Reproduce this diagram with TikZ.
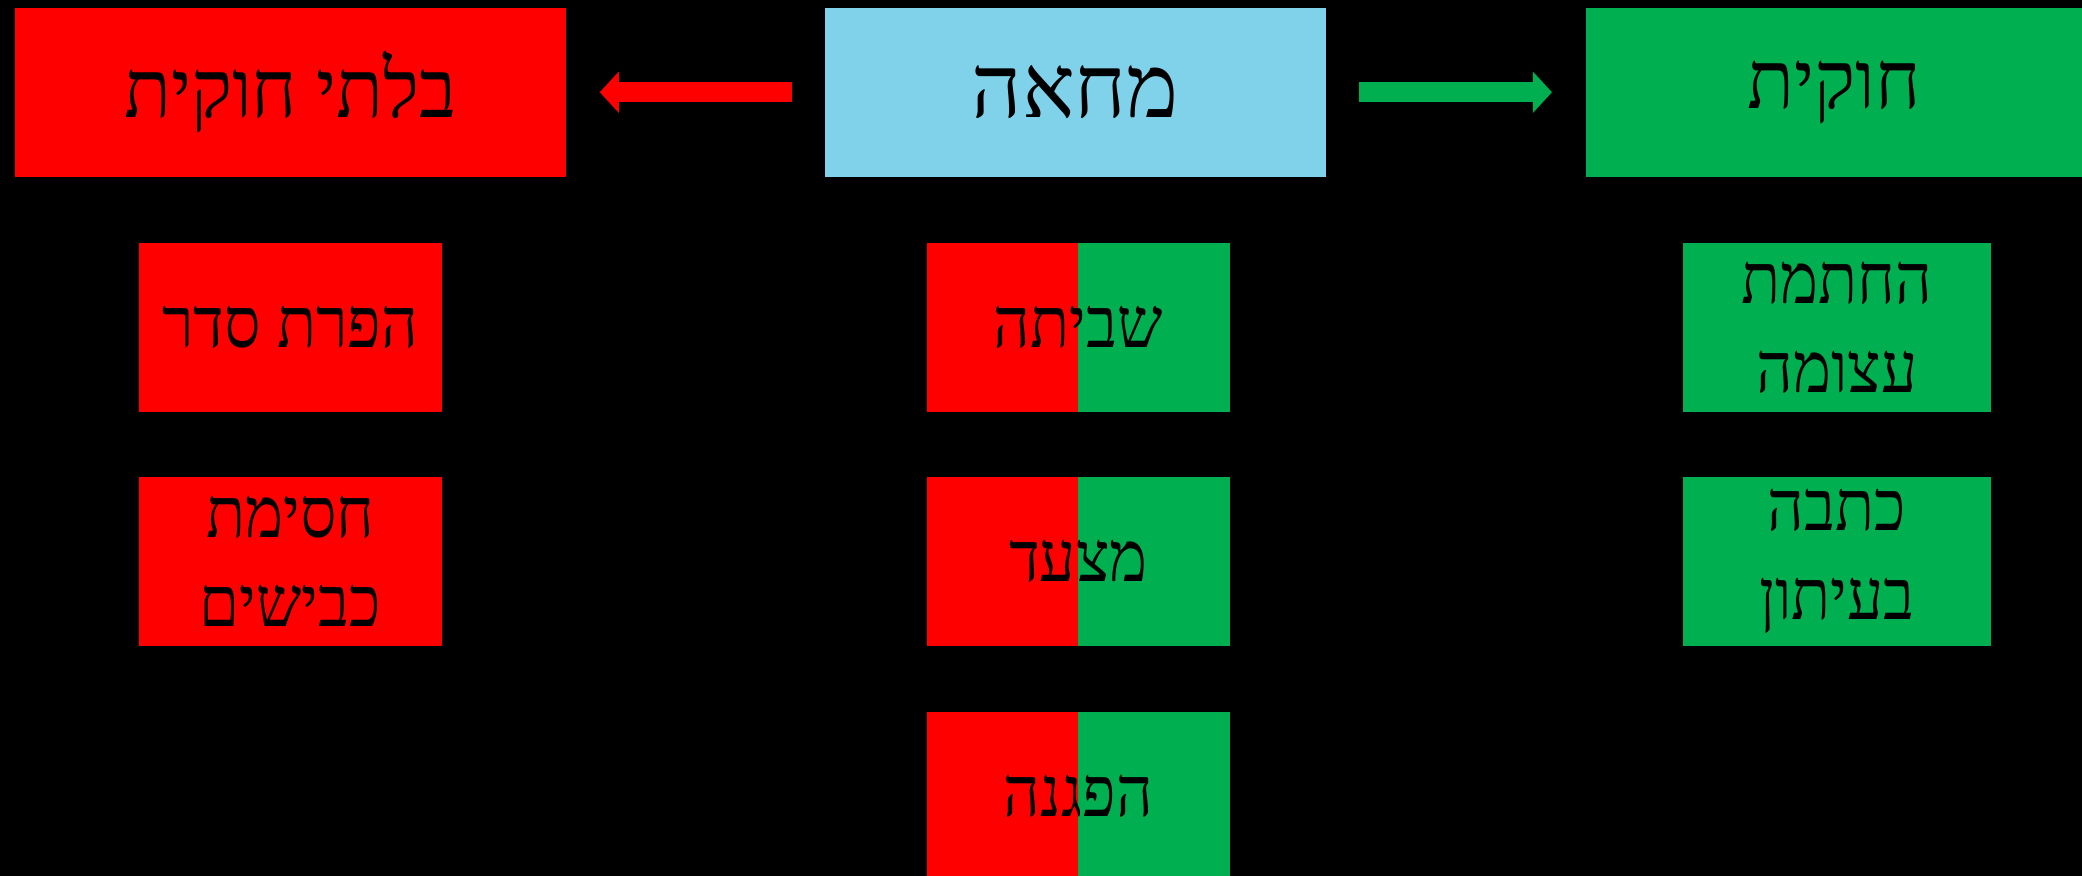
\documentclass[tikz,border=0pt]{standalone}
\usepackage{fontspec}
\newfontfamily\hebfont[Script=Hebrew,FakeStretch=0.91]{Liberation Serif}
\newfontfamily\hebtopfont[Script=Hebrew,FakeStretch=0.95]{Liberation Serif}
\newfontfamily\hebmainfont[Script=Hebrew]{Liberation Serif}
\TeXXeTstate=1
\newcommand{\rl}[1]{\beginR #1\endR}
\usetikzlibrary{arrows.meta}
\definecolor{cred}{RGB}{255,0,0}
\definecolor{cgreen}{RGB}{0,176,80}
\definecolor{cblue}{RGB}{128,210,235}
\begin{document}
\begin{tikzpicture}[x=0.01cm,y=-0.01cm,
  box/.style={rectangle, inner sep=0pt, anchor=north west, align=center, text=black,
    font=\hebfont\fontsize{20}{25.3}\selectfont},
  topbox/.style={box, minimum height=1.69cm, font=\hebtopfont\fontsize{23}{28}\selectfont},
  smallbox/.style={box, minimum height=1.69cm},
  splitbox/.style={box, minimum width=3.03cm, minimum height=1.69cm,
    path picture={
      \fill[cred] (path picture bounding box.south west) rectangle (path picture bounding box.north);
      \fill[cgreen] (path picture bounding box.south) rectangle (path picture bounding box.north east);
    }},
  blockarrow/.style={line width=0.2cm, -{Triangle[length=0.19cm, width=0.4cm]},
    shorten <=0.32cm, shorten >=0.33cm}
]
\fill[black] (0,0) rectangle (2082,876);
\useasboundingbox (0,0) rectangle (2082,876);

% top row
\node[topbox, fill=cred, minimum width=5.51cm] (illegal) at (14,7) {\rl{בלתי חוקית}};
\node[topbox, fill=cblue, minimum width=5.01cm, font=\hebmainfont\fontsize{25}{30}\selectfont] (protest) at (824,7) {\rl{מחאה}};
\node[topbox, fill=cgreen, minimum width=4.97cm] (legal) at (1585,7) {\rl{חוקית}};

% arrows
\draw[blockarrow, cred] (protest.west) -- (illegal.east);
\draw[blockarrow, cgreen] (protest.east) -- (legal.west);

% left column
\node[smallbox, fill=cred, minimum width=3.03cm] (disorder) at (138,242) {\rl{הפרת סדר}};
\node[smallbox, fill=cred, minimum width=3.03cm] (roads) at (138,476) {\rl{חסימת}\\\rl{כבישים}};

% center column
\node[splitbox] (strike) at (926,242) {\rl{שביתה}};
\node[splitbox] (march) at (926,476) {\raisebox{-0.24cm}{\rl{מצעד}}};
\node[splitbox] (demo) at (926,711) {\rl{הפגנה}};

% right column
\node[smallbox, fill=cgreen, minimum width=3.08cm] (petition) at (1682,242) {\rl{החתמת}\\\rl{עצומה}};
\node[smallbox, fill=cgreen, minimum width=3.08cm] (article) at (1682,476) {\rl{כתבה}\\\rl{בעיתון}};
\end{tikzpicture}
\end{document}
